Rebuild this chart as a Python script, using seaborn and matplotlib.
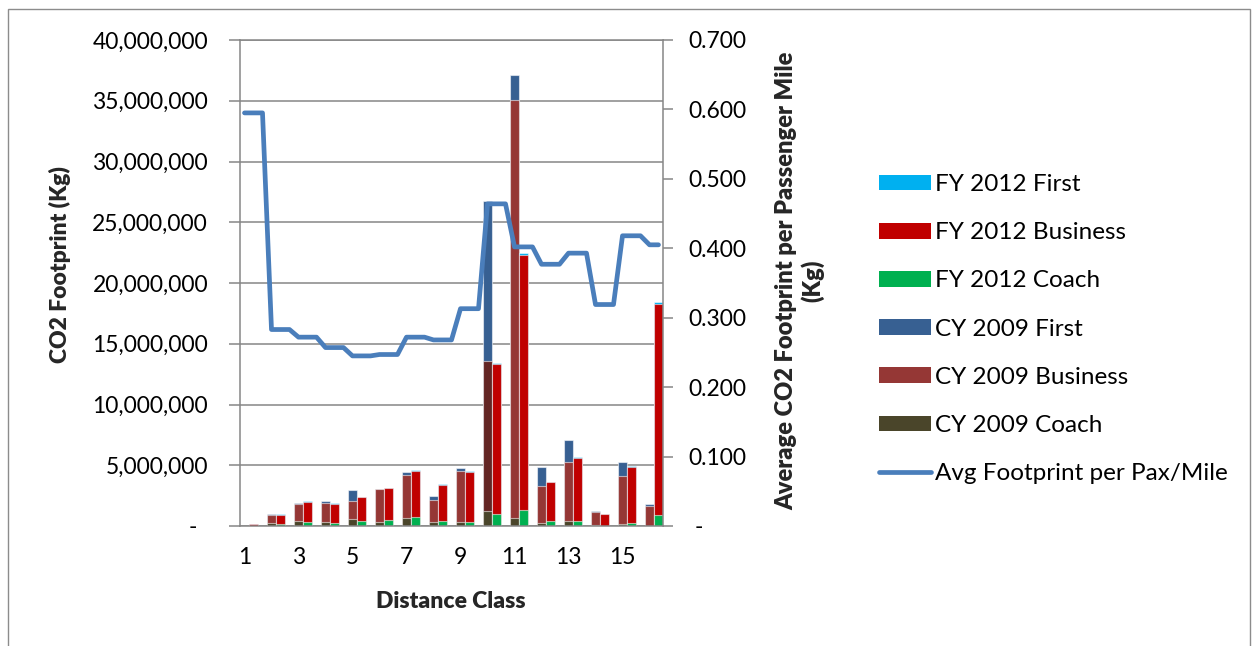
import numpy as np
import pandas as pd
import matplotlib
matplotlib.use("Agg")
import matplotlib.pyplot as plt
import seaborn as sns
from matplotlib.patches import Patch, Rectangle
from matplotlib.lines import Line2D
from matplotlib.ticker import FixedLocator, FuncFormatter
from matplotlib.transforms import ScaledTranslation

# ---- data (CO2 footprint in kg per distance class) ----
distance_class = list(range(1, 17))

cy2009_coach = [0, 270_000, 440_000, 360_000, 580_000, 360_000, 690_000, 330_000,
                300_000, 1_260_000, 690_000, 270_000, 410_000, 50_000, 160_000, 20_000]
cy2009_business = [0, 670_000, 1_400_000, 1_530_000, 1_480_000, 2_660_000, 3_540_000, 1_840_000,
                   4_250_000, 12_290_000, 34_410_000, 3_050_000, 4_890_000, 1_100_000, 3_980_000, 1_630_000]
cy2009_first = [0, 30_000, 40_000, 140_000, 880_000, 40_000, 190_000, 330_000,
                200_000, 13_170_000, 2_050_000, 1_510_000, 1_750_000, 50_000, 1_130_000, 190_000]

fy2012_coach = [20_000, 190_000, 330_000, 270_000, 380_000, 470_000, 710_000, 440_000,
                330_000, 960_000, 1_340_000, 380_000, 380_000, 30_000, 220_000, 930_000]
fy2012_business = [130_000, 720_000, 1_650_000, 1_570_000, 1_980_000, 2_630_000, 3_840_000, 2_960_000,
                   4_140_000, 12_400_000, 21_000_000, 3_240_000, 5_220_000, 930_000, 4_640_000, 17_370_000]
fy2012_first = [0, 40_000, 50_000, 50_000, 30_000, 30_000, 40_000, 30_000,
                40_000, 50_000, 120_000, 40_000, 50_000, 20_000, 40_000, 120_000]

avg_footprint = [0.595, 0.283, 0.272, 0.257, 0.245, 0.247, 0.272, 0.268,
                 0.313, 0.464, 0.402, 0.377, 0.393, 0.319, 0.418, 0.405]

left_ticks = [0, 5_000_000, 10_000_000, 15_000_000, 20_000_000, 25_000_000, 30_000_000, 35_000_000, 40_000_000]
right_ticks = [0, 0.1, 0.2, 0.3, 0.4, 0.5, 0.6, 0.7]
shown_classes = [1, 3, 5, 7, 9, 11, 13, 15]

# ---- colours ----
FY_FIRST, FY_BUSINESS, FY_COACH = "#00B0F0", "#C00000", "#00B050"
CY_FIRST, CY_BUSINESS, CY_COACH = "#376092", "#953735", "#4A452A"
CY_BUSINESS_DARK = "#632523"
LINE_BLUE = "#4A7EBB"
GRAY = "#868686"
EDGE = (1, 1, 1, 0.55)

sns.set_theme(style="white")
plt.rcParams["font.family"] = ["Lato", "DejaVu Sans"]
plt.rcParams["text.color"] = "black"

W, H = 1252, 646
fig = plt.figure(figsize=(W / 100, H / 100), dpi=100)
fig.patch.set_facecolor("white")
ax = fig.add_axes([240 / W, 1 - 526 / H, 423 / W, 486 / H])

# every class occupies three category slots: CY 2009 bar, FY 2012 bar, gap
n_classes = len(distance_class)
n_slots = 3 * n_classes - 1
slot_order = list(range(n_slots))
cy_slots = [3 * i for i in range(n_classes)]
fy_slots = [3 * i + 1 for i in range(n_classes)]

cy_business_palette = {s: (CY_BUSINESS_DARK if c == 10 else CY_BUSINESS)
                       for s, c in zip(cy_slots, distance_class)}


def draw_stack(slots, coach, business, first, first_color, business_color, coach_color,
               business_palette=None):
    frame = pd.DataFrame({"slot": slots, "coach": coach, "business": business, "first": first})
    frame["to_business"] = frame["coach"] + frame["business"]
    frame["to_first"] = frame["to_business"] + frame["first"]
    common = dict(data=frame, x="slot", order=slot_order, width=1.0, saturation=1,
                  errorbar=None, edgecolor=EDGE, linewidth=0.8, ax=ax)
    sns.barplot(y="to_first", color=first_color, **common)
    if business_palette is not None:
        sns.barplot(y="to_business", hue="slot", palette=business_palette, legend=False, **common)
    else:
        sns.barplot(y="to_business", color=business_color, **common)
    sns.barplot(y="coach", color=coach_color, **common)


draw_stack(cy_slots, cy2009_coach, cy2009_business, cy2009_first,
           CY_FIRST, CY_BUSINESS, CY_COACH, business_palette=cy_business_palette)
draw_stack(fy_slots, fy2012_coach, fy2012_business, fy2012_first,
           FY_FIRST, FY_BUSINESS, FY_COACH)

# ---- average footprint line on the secondary axis ----
ax2 = ax.twinx()
line_slots, line_vals = [], []
for i, v in enumerate(avg_footprint):
    for k in range(3):
        s = 3 * i + k
        if s < n_slots:
            line_slots.append(s)
            line_vals.append(v)
line_df = pd.DataFrame({"slot": line_slots, "avg": line_vals})
sns.lineplot(data=line_df, x="slot", y="avg", ax=ax2, color=LINE_BLUE, linewidth=3.4,
             solid_joinstyle="round", solid_capstyle="round")

# ---- axes styling ----
ax.set_xlim(-0.5, n_slots - 0.5)
ax.set_ylim(0, 40_000_000)
ax2.set_ylim(0, 0.7)

ax.yaxis.set_major_locator(FixedLocator(left_ticks))
ax.yaxis.set_major_formatter(FuncFormatter(lambda v, p: "-" if v == 0 else f"{v:,.0f}"))
ax2.yaxis.set_major_locator(FixedLocator(right_ticks))
ax2.yaxis.set_major_formatter(FuncFormatter(lambda v, p: "-" if v == 0 else f"{v:.3f}"))

label_pos = [3 * (c - 1) for c in shown_classes]
ax.set_xticks(label_pos, [str(c) for c in shown_classes])
ax.set_xticks(np.arange(-0.5, n_slots), minor=True)

ax.grid(axis="y", color=GRAY, linewidth=1.1)
ax.grid(axis="x", visible=False)
ax.set_axisbelow(True)

for a in (ax, ax2):
    for side, sp in a.spines.items():
        sp.set_color(GRAY)
        sp.set_linewidth(1.1)
ax.spines["right"].set_visible(False)
ax2.spines["left"].set_visible(False)
ax2.spines["bottom"].set_visible(False)
ax2.spines["top"].set_visible(False)

TICK_SIZE = 16.5
ax.tick_params(axis="x", which="major", length=0, pad=15, labelsize=TICK_SIZE, labelcolor="black")
ax.tick_params(axis="x", which="minor", length=7, width=1.1, color=GRAY, direction="out")
ax.tick_params(axis="y", which="major", length=8, width=1.1, color=GRAY, direction="out",
               pad=15, labelsize=TICK_SIZE, labelcolor="black", left=True)
ax2.tick_params(axis="y", which="major", length=7, width=1.1, color=GRAY, direction="out",
                pad=11, labelsize=TICK_SIZE, labelcolor="black", right=True)

LABEL_WEIGHT = "heavy"
ax.set_xlabel("Distance Class", fontsize=16.5, fontweight=LABEL_WEIGHT)
ax.xaxis.label.set_va("center")
ax.xaxis.set_label_coords(211 / 423, (526 - 601) / 486)

ax.set_ylabel("CO2 Footprint (Kg)", fontsize=16.5, fontweight=LABEL_WEIGHT)
ax.yaxis.label.set_va("center")
ax.yaxis.set_label_coords((60 - 240) / 423, (526 - 265) / 486)

ax2.set_ylabel("Average CO2 Footprint per Passenger Mile\n(Kg)", fontsize=17,
               fontweight=LABEL_WEIGHT, linespacing=1.2)
ax2.yaxis.label.set_va("center")
ax2.yaxis.label.set_ha("center")
ax2.yaxis.set_label_coords((800 - 240) / 423, (526 - 281) / 486)

# ---- legend ----
handles = [
    Patch(facecolor=FY_FIRST, edgecolor="none"),
    Patch(facecolor=FY_BUSINESS, edgecolor="none"),
    Patch(facecolor=FY_COACH, edgecolor="none"),
    Patch(facecolor=CY_FIRST, edgecolor="none"),
    Patch(facecolor=CY_BUSINESS, edgecolor="none"),
    Patch(facecolor=CY_COACH, edgecolor="none"),
    Line2D([], [], color=LINE_BLUE, linewidth=3.4, solid_capstyle="round"),
]
labels = ["FY 2012 First", "FY 2012 Business", "FY 2012 Coach",
          "CY 2009 First", "CY 2009 Business", "CY 2009 Coach",
          "Avg Footprint per Pax/Mile"]
ax2.legend(handles, labels, loc="upper left", bbox_to_anchor=(879 / W, 1 - 174 / H),
           bbox_transform=fig.transFigure, frameon=False, fontsize=17.5,
           handlelength=2.15, handleheight=0.62, handletextpad=0.17,
           labelspacing=1.12, borderpad=0, borderaxespad=0)

# thin frame around the whole chart
fig.add_artist(Rectangle((8 / W, -0.02), (W - 10) / W, 1 - 9 / H + 0.02,
                         transform=fig.transFigure, fill=False,
                         edgecolor="#8C8C8C", linewidth=1.0))

# nudge the zero dashes as in accounting number format
fig.canvas.draw()
zl = ax.yaxis.get_major_ticks()[0].label1
zl.set_transform(zl.get_transform() + ScaledTranslation(-11 / 100, 0, fig.dpi_scale_trans))
zr = ax2.yaxis.get_major_ticks()[0].label2
zr.set_transform(zr.get_transform() + ScaledTranslation(7 / 100, 0, fig.dpi_scale_trans))

fig.savefig("out.png", dpi=100)
